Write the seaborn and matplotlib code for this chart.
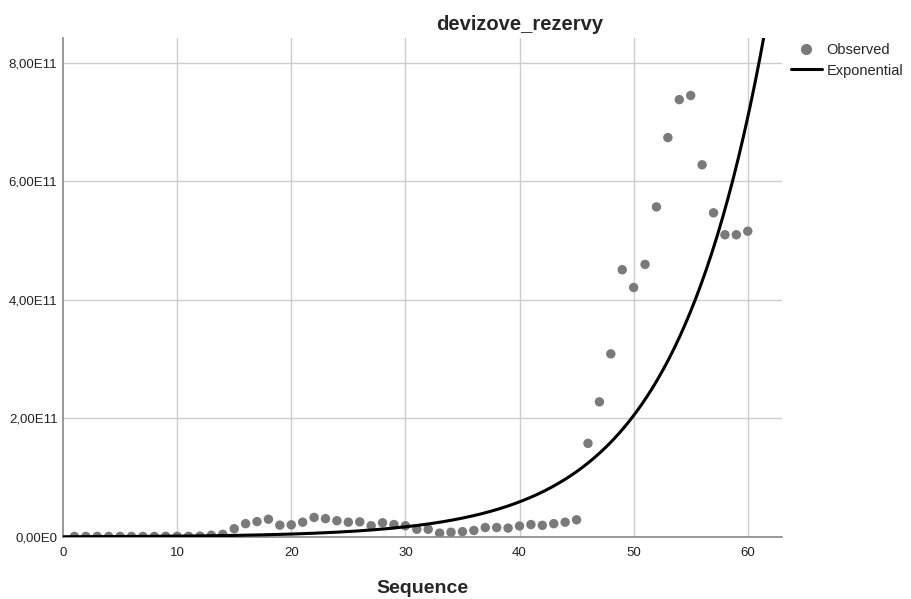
import numpy as np
import pandas as pd
import matplotlib
matplotlib.use("Agg")
import matplotlib.pyplot as plt
from matplotlib.ticker import FuncFormatter
from matplotlib.lines import Line2D
import seaborn as sns

# Observed foreign-exchange reserves by sequence number
sequence = list(range(1, 61))
observed = [
    0.10e10, 0.10e10, 0.10e10, 0.10e10, 0.10e10, 0.10e10, 0.10e10, 0.10e10, 0.12e10, 0.12e10,
    0.12e10, 0.15e10, 0.30e10, 0.45e10, 1.40e10, 2.25e10, 2.60e10, 3.00e10, 2.00e10, 2.05e10,
    2.50e10, 3.30e10, 3.10e10, 2.75e10, 2.50e10, 2.55e10, 1.90e10, 2.40e10, 2.10e10, 1.90e10,
    1.30e10, 1.30e10, 0.65e10, 0.80e10, 0.90e10, 1.10e10, 1.60e10, 1.60e10, 1.50e10, 1.86e10,
    2.10e10, 1.97e10, 2.25e10, 2.50e10, 2.90e10, 1.58e11, 2.28e11, 3.09e11, 4.51e11, 4.21e11,
    4.60e11, 5.57e11, 6.74e11, 7.38e11, 7.45e11, 6.28e11, 5.47e11, 5.10e11, 5.10e11, 5.16e11,
]

# Exponential model y = a * exp(b * t)
exp_a = 4.16e8
exp_b = 0.124

y_ticks = [0, 2e11, 4e11, 6e11, 8e11]
x_ticks = [0, 10, 20, 30, 40, 50, 60]

df = pd.DataFrame({"Sequence": sequence, "value": observed})
t = np.linspace(0, 63, 400)
fit = pd.DataFrame({"Sequence": t, "value": exp_a * np.exp(exp_b * t)})

sns.set_style("white")
plt.rcParams["font.family"] = ["Liberation Sans", "DejaVu Sans"]

fig = plt.figure(figsize=(9.11, 5.99), dpi=100)
ax = fig.add_axes([63 / 911, 1 - 537 / 599, (782 - 63) / 911, (537 - 38) / 599])

grid_color = "#cccccc"
for xv in x_ticks[1:]:
    ax.axvline(xv, color=grid_color, lw=1.0, zorder=0)
for yv in y_ticks[1:]:
    ax.axhline(yv, color=grid_color, lw=1.0, zorder=0)

point_color = "#7a7a7a"
sns.scatterplot(data=df, x="Sequence", y="value", ax=ax, color=point_color,
                s=46, edgecolor="none", zorder=2, legend=False)
sns.lineplot(data=fit, x="Sequence", y="value", ax=ax, color="black",
             lw=2.2, zorder=3, legend=False)

ax.set_xlim(0, 63)
ax.set_ylim(0, 8.42e11)
ax.set_xticks(x_ticks)
ax.set_yticks(y_ticks)


def sci_comma(v, pos):
    if v == 0:
        return "0,00E0"
    exp = int(np.floor(np.log10(abs(v))))
    mant = v / 10 ** exp
    return f"{mant:.2f}".replace(".", ",") + f"E{exp}"


ax.yaxis.set_major_formatter(FuncFormatter(sci_comma))
ax.tick_params(axis="both", length=0, labelsize=9.5, colors="#222222")
ax.tick_params(axis="x", pad=7)
ax.tick_params(axis="y", pad=4)

for side in ["top", "right"]:
    ax.spines[side].set_visible(False)
for side in ["left", "bottom"]:
    ax.spines[side].set_color("#888888")
    ax.spines[side].set_linewidth(1.2)

ax.set_xlabel("Sequence", fontsize=14, fontweight="bold", labelpad=15)
ax.set_ylabel("")
fig.text(520 / 911, 1 - 25 / 599, "devizove_rezervy", ha="center", va="center",
         fontsize=14.5, fontweight="bold")

handles = [
    Line2D([], [], marker="o", color=point_color, linestyle="none", markersize=7),
    Line2D([], [], color="black", lw=2.2),
]
fig.legend(handles, ["Observed", "Exponential"], loc="upper left",
           bbox_to_anchor=(791 / 911, 1 - 43 / 599), frameon=False, fontsize=10.5,
           handlelength=2.1, handletextpad=0.35, labelspacing=0.45, borderaxespad=0,
           borderpad=0)

fig.savefig("out.png", dpi=100)
